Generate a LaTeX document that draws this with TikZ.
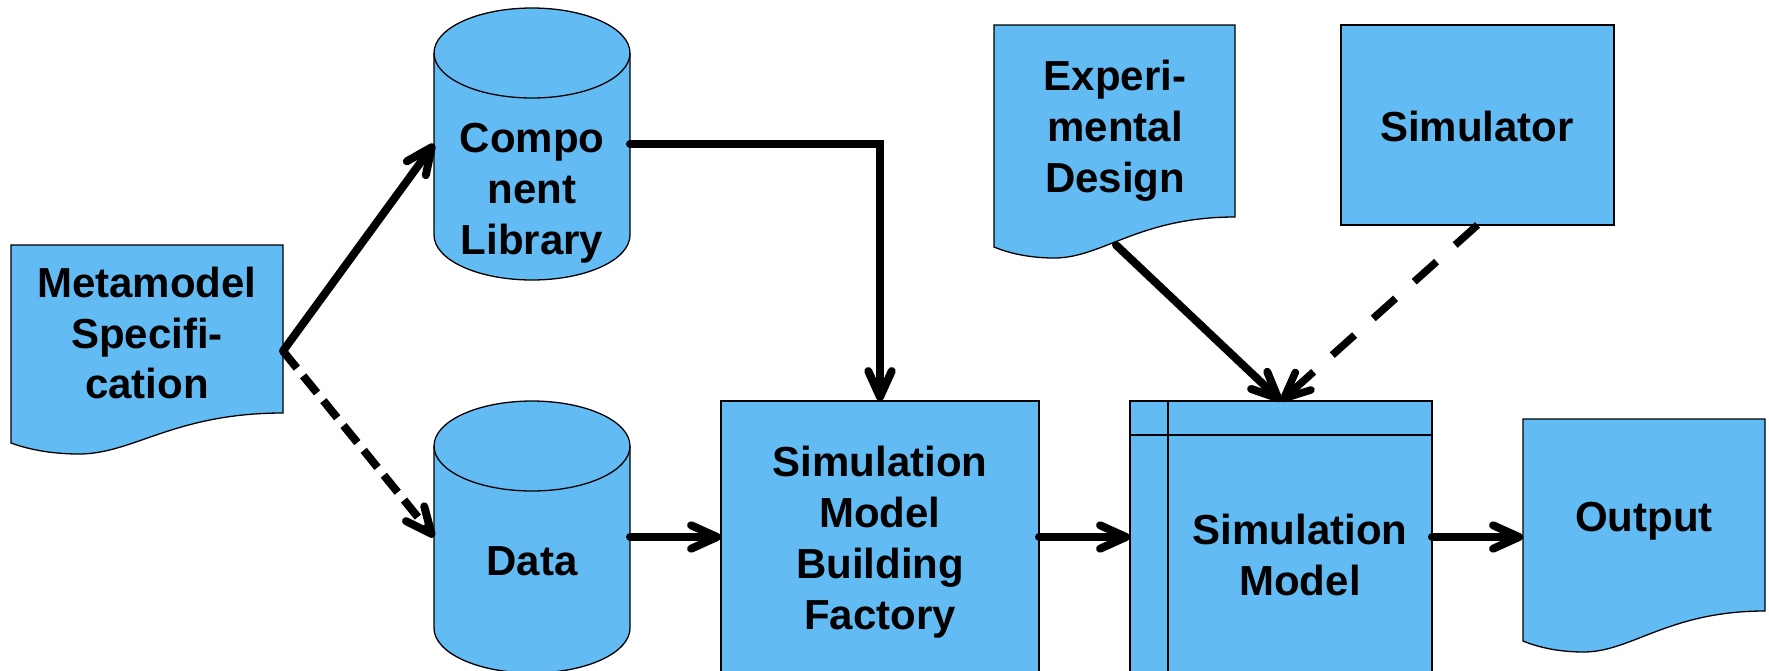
\documentclass[tikz,border=0pt]{standalone}
\usepackage{fontspec}
\setmainfont{Liberation Sans}
\usetikzlibrary{arrows.meta}
\definecolor{boxblue}{RGB}{99,187,243}
\tikzset{
 shapeline/.style={draw=black, fill=boxblue, line width=0.026cm},
 anchorbox/.style={draw=none, inner sep=0pt, outer sep=0pt, rectangle},
 txt/.style={font=\fontsize{23.9}{29}\selectfont\bfseries, align=center, inner sep=0pt},
 conn/.style={line width=0.16cm, line cap=round, line join=miter, -{Straight Barb[length=0.52cm,width=0.47cm,line cap=round,line join=round]}},
 dashconn/.style={conn, line cap=butt, dash pattern=on 0.44cm off 0.2cm},
 longdashconn/.style={conn, line cap=butt, line width=0.15cm, dash pattern=on 0.6cm off 0.5cm},
}
\newcommand\mydocshape[4]{%
 \draw[shapeline] (#1,#2) -- (#3,#2) -- (#3,#4-30)
  .. controls ({#1+0.6*(#3-#1)},#4-30) and ({#1+0.45*(#3-#1)},#4+11) .. ({#1+0.25*(#3-#1)},#4+11)
  .. controls ({#1+0.17*(#3-#1)},#4+11) and ({#1+0.08*(#3-#1)},#4+8) .. (#1,#4) -- cycle;}
\newcommand\mycyl[4]{%
 \pgfmathsetmacro\cylrx{(#2-#1)/2*0.02}%
 \draw[shapeline] (#1,#3+45) -- (#1,#4-45) arc[start angle=180,end angle=360,x radius=\cylrx cm,y radius=0.9cm] -- (#2,#3+45) arc[start angle=0,end angle=180,x radius=\cylrx cm,y radius=0.9cm] -- cycle;
 \draw[line width=0.026cm] (#1,#3+45) arc[start angle=180,end angle=360,x radius=\cylrx cm,y radius=0.9cm];}
\begin{document}
\begin{tikzpicture}[x=0.02cm,y=-0.02cm]
\useasboundingbox (0,0) rectangle (1769,670);
\fill[white] (0,0) rectangle (1769,670);
\clip (0,0) rectangle (1769,670);
% named frames
\node[anchorbox, minimum width=5.44cm, minimum height=3.96cm] (meta) at (147,344) {};
\node[anchorbox, minimum width=3.92cm, minimum height=5.44cm] (lib) at (532,144) {};
\node[anchorbox, minimum width=3.92cm, minimum height=5.44cm] (data) at (532,537) {};
\node[anchorbox, minimum width=4.82cm, minimum height=4.44cm] (expd) at (1114.5,136) {};
\node[anchorbox, minimum width=4.84cm, minimum height=4.44cm] (outp) at (1644,530) {};
% shapes
\mydocshape{11}{245}{283}{443}
\mydocshape{994}{25}{1235}{247}
\mydocshape{1523}{419}{1765}{641}
\mycyl{434}{630}{8}{280}
\mycyl{434}{630}{401}{673}
\node[shapeline, anchorbox, draw=black, minimum width=6.36cm, minimum height=5.98cm] (smbf) at (880,550.5) {};
\node[shapeline, anchorbox, draw=black, minimum width=6.04cm, minimum height=5.98cm] (sim) at (1281,550.5) {};
\draw[line width=0.026cm] (sim.north west |- 0,435) -- (sim.north east |- 0,435);
\draw[line width=0.026cm] (1168,401) -- (1168,700);
\node[shapeline, anchorbox, draw=black, minimum width=5.46cm, minimum height=4.0cm] (simr) at (1477.5,125) {};
% texts
\node[txt] (metaT) at (147,333) {Metamodel\\Specifi-\\cation};
\node[txt] (libT) at (532,193) {Compo\\nent\\Library};
\node[txt] (dataT) at (532,561) {Data};
\node[txt] (smbfT) at (880,542) {Simulation\\Model\\Building\\Factory};
\node[txt] (simT) at (1300,555) {Simulation\\Model};
\node[txt] (outT) at (1644,521) {Output};
\node[txt] (expT) at (1115,131) {Experi-\\mental\\Design};
\node[txt] (simrT) at (1477,126) {Simulator};
% connectors
\coordinate (mo) at (283,351);
\coordinate (eo) at (1116,245);
\draw[conn] (mo) -- (lib.west);
\draw[dashconn] (mo) -- (data.west);
\draw[conn] (lib.east) -| (smbf.north);
\draw[conn] (data.east) -- (data.east -| smbf.west);
\draw[conn] (data.east -| smbf.east) -- (data.east -| sim.west);
\draw[conn] (data.east -| sim.east) -- (data.east -| outp.west);
\draw[conn] (eo) -- (sim.north);
\draw[longdashconn] (simr.south) -- (sim.north);
\end{tikzpicture}
\end{document}
